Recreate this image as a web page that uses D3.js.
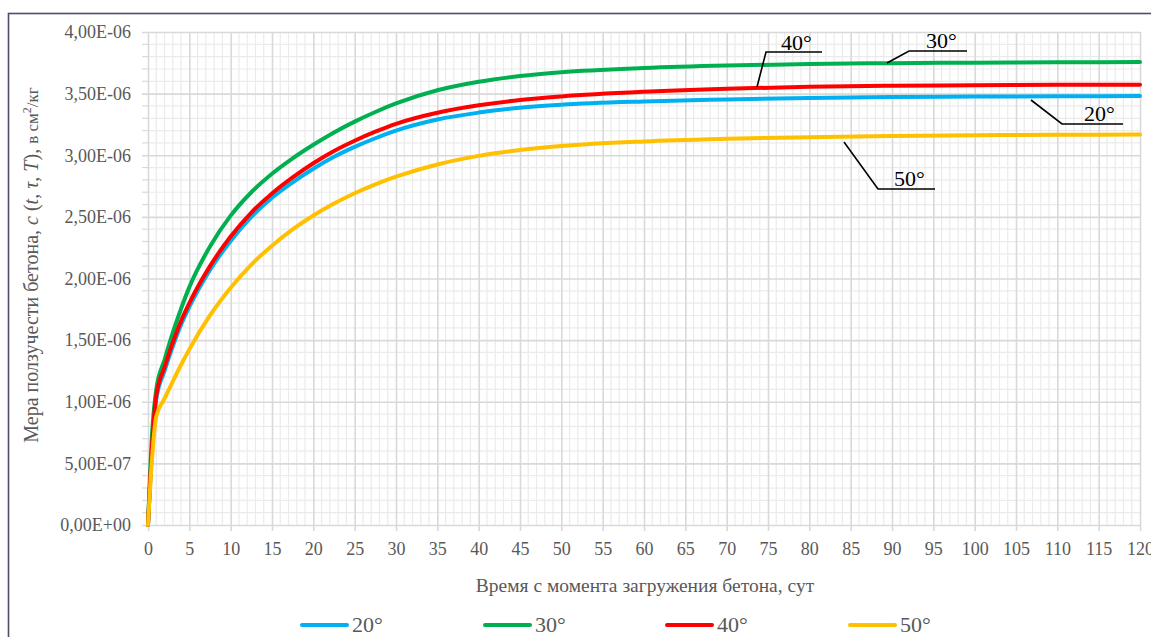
<!DOCTYPE html>
<html>
<head>
<meta charset="utf-8">
<script src="https://cdn.jsdelivr.net/npm/d3@7"></script>
<style>
  html, body { margin: 0; padding: 0; background: #fff; }
  svg { display: block; }
</style>
</head>
<body>
<svg id="chart" width="1151" height="637"></svg>
<script>
// Time since loading, days
const days = [0, 0.5, 1, 2, 3, 4, 5, 7.5, 10, 12.5, 15, 17.5, 20, 22.5, 25, 27.5, 30, 35, 40, 45, 50, 60, 70, 80, 90, 100, 110, 120];

// Creep measure, units of 1e-6 cm²/kg
const creep20 = [0, 0.62, 1.02, 1.25, 1.45, 1.625, 1.77, 2.07, 2.305, 2.50, 2.655, 2.78, 2.89, 2.987, 3.068, 3.138, 3.20, 3.290, 3.346, 3.385, 3.41, 3.437, 3.453, 3.465, 3.472, 3.476, 3.478, 3.48];
const creep30 = [0, 0.75, 1.10, 1.34, 1.56, 1.755, 1.93, 2.26, 2.51, 2.70, 2.85, 2.975, 3.085, 3.185, 3.273, 3.351, 3.42, 3.527, 3.596, 3.643, 3.674, 3.708, 3.728, 3.74, 3.747, 3.751, 3.754, 3.756];
const creep40 = [0, 0.65, 1.05, 1.28, 1.48, 1.655, 1.80, 2.10, 2.34, 2.535, 2.69, 2.82, 2.935, 3.035, 3.118, 3.191, 3.255, 3.345, 3.405, 3.448, 3.477, 3.515, 3.54, 3.555, 3.564, 3.568, 3.571, 3.573];
const creep50 = [0, 0.55, 0.88, 1.025, 1.165, 1.30, 1.425, 1.70, 1.925, 2.113, 2.266, 2.398, 2.511, 2.608, 2.692, 2.764, 2.826, 2.925, 2.995, 3.042, 3.075, 3.112, 3.133, 3.147, 3.156, 3.162, 3.166, 3.168];

const seriesNames = ["20°", "30°", "40°", "50°"];
const seriesColors = ["#00b0f0", "#00b050", "#ff0000", "#ffc000"];
const seriesValues = [creep20, creep30, creep40, creep50];

const xTicks = d3.range(0, 121, 5);
const yTicks = d3.range(0, 4.01, 0.5).map(v => v * 1e-6);

const xTitle = "Время с момента загружения  бетона, сут";

const SERIF = "'Liberation Serif', 'Times New Roman', serif";

const svg = d3.select("#chart").attr("font-family", SERIF);
const W = 1151, H = 637;
const plot = { left: 148, right: 1140, top: 32, bottom: 525 };

const x = d3.scaleLinear().domain([0, 120]).range([plot.left, plot.right]);
const y = d3.scaleLinear().domain([0, 4e-6]).range([plot.bottom, plot.top]);

// outer frame
svg.append("rect")
  .attr("x", 8.5).attr("y", 13.5)
  .attr("width", W + 20).attr("height", H + 20)
  .attr("fill", "none").attr("stroke", "#56496b").attr("stroke-width", 1.6);

// minor grid
const g = svg.append("g");
const minorX = d3.range(0, 121, 1).filter(d => d % 5 !== 0);
const minorY = d3.range(0, 40.01, 1).filter(d => d % 5 !== 0).map(v => v * 1e-7);
g.selectAll(".mx").data(minorX).join("line")
  .attr("x1", d => x(d)).attr("x2", d => x(d))
  .attr("y1", plot.top).attr("y2", plot.bottom)
  .attr("stroke", "#ebebeb").attr("stroke-width", 1.2);
g.selectAll(".my").data(minorY).join("line")
  .attr("x1", plot.left).attr("x2", plot.right)
  .attr("y1", d => y(d)).attr("y2", d => y(d))
  .attr("stroke", "#ebebeb").attr("stroke-width", 1.2);
g.selectAll(".myt").data(minorY).join("line")
  .attr("x1", plot.left - 6).attr("x2", plot.left)
  .attr("y1", d => y(d)).attr("y2", d => y(d))
  .attr("stroke", "#d9d9d9").attr("stroke-width", 1.2);

// major grid through axes
const fmtSci = v => {
  const [m, e] = v.toExponential(2).split("e");
  const ex = parseInt(e, 10);
  return m.replace(".", ",") + "E" + (ex < 0 ? "-" : "+") + String(Math.abs(ex)).padStart(2, "0");
};

const yAxis = svg.append("g")
  .attr("transform", `translate(${plot.left},0)`)
  .call(d3.axisLeft(y).tickValues(yTicks).tickFormat(fmtSci)
    .tickSizeInner(-(plot.right - plot.left)).tickSizeOuter(0).tickPadding(17));
yAxis.attr("font-family", SERIF);
yAxis.select(".domain").remove();
yAxis.selectAll(".tick line")
  .attr("x1", -6)
  .attr("stroke", "#d9d9d9").attr("stroke-width", 1.6);
yAxis.selectAll(".tick text")
  .attr("fill", "#595959").attr("font-size", 18);

const xAxis = svg.append("g")
  .attr("transform", `translate(0,${plot.bottom})`)
  .call(d3.axisBottom(x).tickValues(xTicks).tickFormat(d3.format("d"))
    .tickSizeInner(-(plot.bottom - plot.top)).tickSizeOuter(0).tickPadding(17));
xAxis.attr("font-family", SERIF);
xAxis.select(".domain").remove();
xAxis.selectAll(".tick line")
  .attr("y1", 6)
  .attr("stroke", "#d9d9d9").attr("stroke-width", 1.6);
xAxis.selectAll(".tick text")
  .attr("fill", "#595959").attr("font-size", 18);

// curves
const line = d3.line()
  .x((d, i) => x(days[i]))
  .y(d => y(d * 1e-6))
  .curve(d3.curveMonotoneX);

seriesValues.forEach((vals, k) => {
  svg.append("path")
    .datum(vals)
    .attr("d", line)
    .attr("fill", "none")
    .attr("stroke", seriesColors[k])
    .attr("stroke-width", 4)
    .attr("stroke-linejoin", "round")
    .attr("stroke-linecap", "round");
});

// callout labels on the curves
const callouts = [
  { text: "40°", pts: [[757, 87], [766, 52], [822, 52]], tx: 781, ty: 50 },
  { text: "30°", pts: [[887, 63], [909, 51], [967, 51]], tx: 926, ty: 48 },
  { text: "50°", pts: [[844, 142], [878, 189], [935, 189]], tx: 894, ty: 186 },
  { text: "20°", pts: [[1031, 100], [1062, 124], [1123, 124]], tx: 1084, ty: 121 }
];
callouts.forEach(c => {
  svg.append("polyline")
    .attr("points", c.pts.map(p => p.join(",")).join(" "))
    .attr("fill", "none").attr("stroke", "#000").attr("stroke-width", 1.6);
  svg.append("text")
    .attr("x", c.tx).attr("y", c.ty)
    .attr("fill", "#000").attr("font-size", 22)
    .text(c.text);
});

// axis titles
svg.append("text")
  .attr("x", 645).attr("y", 592)
  .attr("text-anchor", "middle")
  .attr("fill", "#595959").attr("font-size", 19.5)
  .text(xTitle);

const yt = svg.append("text")
  .attr("transform", "translate(38,265) rotate(-90)")
  .attr("text-anchor", "middle")
  .attr("fill", "#595959").attr("font-size", 20);
yt.append("tspan").text("Мера ползучести бетона, ");
yt.append("tspan").attr("font-style", "italic").text("c");
yt.append("tspan").text(" (");
yt.append("tspan").attr("font-style", "italic").text("t");
yt.append("tspan").text(", ");
yt.append("tspan").attr("font-style", "italic").text("τ");
yt.append("tspan").text(", ");
yt.append("tspan").attr("font-style", "italic").text("T");
yt.append("tspan").text("), ");
yt.append("tspan").attr("font-size", 17).text("в см");
yt.append("tspan").attr("font-size", 12).attr("dy", -7).text("2");
yt.append("tspan").attr("font-size", 17).attr("dy", 7).text("/кг");

// legend
const legendX = [300, 483, 665, 848];
seriesNames.forEach((name, k) => {
  const lx = legendX[k];
  svg.append("line")
    .attr("x1", lx + 2).attr("x2", lx + 47)
    .attr("y1", 625).attr("y2", 625)
    .attr("stroke", seriesColors[k]).attr("stroke-width", 4)
    .attr("stroke-linecap", "round");
  svg.append("text")
    .attr("x", lx + 52).attr("y", 632)
    .attr("fill", "#595959").attr("font-size", 22)
    .text(name);
});
</script>
</body>
</html>
